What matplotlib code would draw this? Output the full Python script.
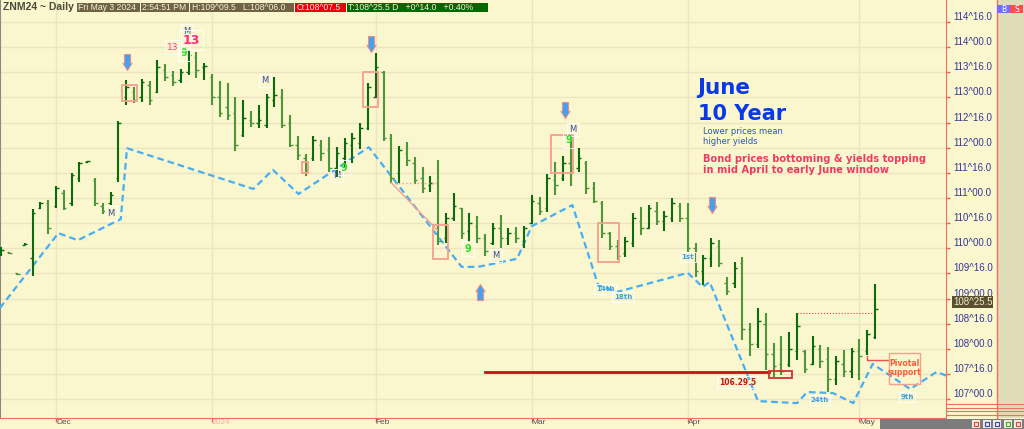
import numpy as np
import matplotlib
matplotlib.use('Agg')
import matplotlib.pyplot as plt
import matplotlib.path as mpath
from matplotlib.patches import Rectangle
from matplotlib.lines import Line2D

# ---- data (ZNM24 daily, Nov 21 2023 .. May 3 2024), bar index 0 = Nov 21
highs = [110.02, 109.93, 109.51, 110.10, 110.78, 110.92, 110.96, 111.24, 111.16, 111.50,
         111.72, 111.74, 111.40, 110.90, 111.12, 112.53, 113.35, 113.21, 113.37, 113.33,
         113.74, 113.67, 113.53, 113.57, 113.94, 113.90, 113.68, 113.47, 113.33, 113.29,
         113.01, 112.95, 112.73, 112.85, 113.07, 113.41, 113.17, 112.65, 112.23, 111.87,
         112.23, 112.15, 112.21, 112.01, 112.19, 112.29, 112.49, 113.29, 113.88, 113.53,
         112.27, 112.03, 112.11, 111.82, 111.62, 111.44, 111.76, 110.70, 111.10, 110.80,
         110.70, 110.64, 110.28, 110.50, 110.66, 110.40, 110.42, 110.44, 111.06, 111.02,
         111.48, 111.72, 111.84, 112.21, 111.99, 111.74, 111.32, 110.94, 110.32, 110.16,
         110.22, 110.70, 110.82, 110.86, 110.92, 110.74, 111.00, 110.90, 110.90, 110.10,
         109.87, 110.20, 110.16, 109.43, 109.73, 109.83, 108.51, 108.81, 108.71, 108.12,
         108.25, 108.33, 108.71, 107.98, 108.25, 108.08, 108.04, 107.86, 107.98, 108.02,
         108.20, 108.37, 109.297]
lows = [109.85, 109.89, 109.47, 110.06, 109.45, 110.78, 110.28, 110.80, 110.76, 110.84,
        111.32, 111.70, 110.84, 110.68, 110.86, 111.32, 112.85, 112.89, 112.91, 112.85,
        113.09, 113.33, 113.23, 113.29, 113.45, 113.39, 113.35, 112.85, 112.61, 112.55,
        111.93, 112.21, 112.41, 112.39, 112.39, 112.81, 112.39, 112.01, 111.76, 111.44,
        111.74, 111.74, 111.52, 111.42, 111.62, 111.70, 111.97, 112.35, 112.99, 112.13,
        111.30, 111.30, 111.64, 111.28, 111.10, 111.12, 110.06, 110.10, 110.54, 110.18,
        110.12, 110.10, 109.85, 110.06, 110.00, 110.06, 110.10, 110.00, 110.48, 110.66,
        110.72, 111.06, 111.34, 111.24, 111.52, 111.08, 110.90, 110.20, 109.97, 109.77,
        109.83, 110.02, 110.26, 110.38, 110.46, 110.34, 110.52, 110.52, 109.93, 109.43,
        109.27, 109.63, 109.63, 109.07, 109.21, 108.18, 107.86, 108.02, 107.58, 107.44,
        107.48, 107.64, 107.78, 107.52, 107.68, 107.62, 107.14, 107.28, 107.44, 107.42,
        107.38, 107.88, 108.1875]
opens = [109.90, 109.92, 109.50, 110.07, 109.80, 110.80, 110.90, 110.85, 111.10, 110.90,
         111.40, 111.72, 111.35, 110.85, 110.90, 111.40, 113.00, 113.10, 113.00, 113.25,
         113.10, 113.55, 113.45, 113.35, 113.50, 113.80, 113.60, 113.40, 113.00, 112.80,
         112.70, 112.25, 112.55, 112.50, 112.45, 112.95, 113.00, 112.50, 112.05, 111.80,
         111.80, 112.05, 111.95, 111.60, 111.80, 112.05, 112.10, 112.40, 113.00, 113.50,
         112.20, 111.50, 111.90, 111.70, 111.40, 111.25, 111.30, 110.20, 110.60, 110.80,
         110.35, 110.45, 110.20, 110.10, 110.40, 110.20, 110.30, 110.15, 110.50, 110.90,
         110.80, 111.35, 111.40, 111.70, 111.60, 111.70, 111.20, 110.90, 110.30, 110.05,
         109.90, 110.10, 110.55, 110.40, 110.75, 110.55, 110.60, 110.85, 110.60, 110.00,
         109.55, 109.80, 110.05, 109.30, 109.30, 109.70, 108.40, 108.10, 108.50, 107.90,
         107.70, 107.70, 107.95, 107.95, 107.70, 108.00, 107.80, 107.40, 107.70, 107.55,
         107.95, 107.95, 108.234]
closes = [109.97, 109.91, 109.49, 110.08, 110.70, 110.90, 110.40, 111.20, 110.80, 111.45,
          111.70, 111.73, 110.90, 110.75, 111.05, 112.50, 113.20, 112.95, 113.30, 112.95,
          113.60, 113.40, 113.30, 113.50, 113.85, 113.55, 113.62, 113.00, 112.70, 112.65,
          112.05, 112.60, 112.50, 112.55, 113.00, 113.05, 112.45, 112.05, 111.85, 111.55,
          112.15, 111.90, 111.60, 111.90, 112.10, 112.20, 112.40, 113.20, 113.60, 112.20,
          111.40, 111.95, 111.75, 111.35, 111.20, 111.30, 110.15, 110.60, 110.85, 110.30,
          110.50, 110.20, 109.95, 110.40, 110.20, 110.30, 110.20, 110.40, 110.95, 110.75,
          111.40, 111.25, 111.70, 111.60, 111.80, 111.20, 110.95, 110.30, 110.05, 109.85,
          110.15, 110.60, 110.40, 110.80, 110.55, 110.65, 110.90, 110.60, 110.00, 109.55,
          109.80, 110.10, 109.70, 109.15, 109.60, 108.40, 108.10, 108.55, 107.90, 107.65,
          107.55, 108.00, 108.45, 107.60, 108.05, 107.75, 107.40, 107.75, 107.55, 107.95,
          107.85, 108.30, 108.797]

month_pos = [7, 27, 48, 68, 88, 110]
month_labels = ['Dec', '2024', 'Feb', 'Mar', 'Apr', 'May']

# dashed projection line (bar index, price)
proj_x = [-0.2, 7.3, 9.8, 15.3, 16.1, 32.3, 34.8, 38.1, 47.1, 59.0, 61.1, 66.1, 68.0,
          73.2, 76.5, 78.9, 88.0, 89.9, 90.8, 97.0, 102.0, 103.3, 106.6, 109.2, 111.7,
          116.5, 119.9, 121.6]
proj_y = [108.81, 110.30, 110.16, 110.58, 111.99, 111.18, 111.56, 111.08, 112.01, 109.63,
          109.63, 109.79, 110.44, 110.86, 109.27, 109.13, 109.51, 109.23, 109.33, 106.96,
          106.92, 107.14, 107.12, 106.92, 107.70, 107.20, 107.54, 107.44]

price_ticks = [107.0, 107.5, 108.0, 108.5, 109.0, 109.5, 110.0, 110.5,
               111.0, 111.5, 112.0, 112.5, 113.0, 113.5, 114.0, 114.5]

BG = '#faf6cd'
GRID = '#ece5c2'
SALMON = '#f4a08e'


def fmt32(p):
    w = int(p)
    return '%d^%04.1f' % (w, (p - w) * 32)


fig = plt.figure(figsize=(10.24, 4.29), dpi=100)
fig.patch.set_facecolor(BG)
ax = fig.add_axes([0, 11 / 429, 946 / 1024, 418 / 429])
ax.set_facecolor(BG)
ax.set_xlim(-0.18, 121.1)
ax.set_ylim(106.624, 114.938)

# grid / axes
ax.set_yticks(price_ticks)
ax.set_yticklabels([fmt32(p) for p in price_ticks])
ax.yaxis.tick_right()
ax.tick_params(axis='y', colors='#f06050', length=3, width=1, pad=2,
               labelcolor='#36369a', labelsize=7)
for lab in ax.get_yticklabels():
    lab.set_fontfamily('Liberation Sans')
    lab.set_verticalalignment('bottom')
ax.set_xticks(month_pos)
ax.set_xticklabels(month_labels)
ax.tick_params(axis='x', colors='#f06050', length=3, width=1, pad=-2.5,
               labelcolor='#555555', labelsize=6)
for lab in ax.get_xticklabels():
    lab.set_horizontalalignment('left')
    lab.set_fontfamily('Liberation Sans')
ax.get_xticklabels()[1].set_color('#f4b0a8')
ax.grid(True, color=GRID, lw=1)
ax.set_axisbelow(True)
ax.spines['top'].set_visible(False)
ax.spines['left'].set_color('#8a8a80')
ax.spines['left'].set_linewidth(1.5)
ax.spines['right'].set_color('#f07060')
ax.spines['bottom'].set_color('#f07060')

# projection line
ax.plot(proj_x, proj_y, color='#45aef5', lw=1.6, ls=(0, (3, 1.8)), zorder=3)

# OHLC bars
xs = np.arange(len(highs))
for i in xs:
    c = '#0d6a0d' if closes[i] >= opens[i] else '#4f9638'
    ax.vlines(i, lows[i], highs[i], color=c, lw=1.5, zorder=4)
    ax.hlines(opens[i], i - 0.32, i, color=c, lw=1.0, zorder=4)
    ax.hlines(closes[i], i, i + 0.32, color=c, lw=1.0, zorder=4)

# support / pivot lines
ax.plot([62, 98.4], [107.53, 107.53], color='#cc1010', lw=2.0, zorder=5)
ax.plot([50.0, 55.9], [111.30, 111.30], color=SALMON, lw=1, ls=':', zorder=5)
ax.plot([50.0, 55.9], [111.30, 110.36], color=SALMON, lw=1, zorder=5)
ax.plot([102, 111.9], [108.71, 108.71], color='#e04040', lw=0.8, ls=':', zorder=5)
ax.plot([111, 111, 113.8], [107.86, 107.78, 107.78], color='#f05050', lw=1, zorder=5)

# highlight boxes
boxes = [(15.5, 112.93, 1.9, 0.32), (38.5, 111.50, 0.8, 0.22), (46.4, 112.81, 1.9, 0.70),
         (55.3, 109.79, 2.0, 0.67), (70.5, 111.50, 2.8, 0.75), (76.5, 109.73, 2.7, 0.77)]
for bx, by, bw, bh in boxes:
    ax.add_patch(Rectangle((bx, by), bw, bh, fill=False, ec=SALMON, lw=1.3, zorder=6))
ax.add_patch(Rectangle((98.4, 107.42), 3.0, 0.14, fill=False, ec='#d03030', lw=1.3, zorder=6))
ax.add_patch(Rectangle((113.8, 107.30), 4.0, 0.62, fill=False, ec=SALMON, lw=1.0, zorder=6))

# arrows
down = mpath.Path([(-0.37, 1), (0.37, 1), (0.37, -0.1), (0.56, -0.1), (0, -1),
                   (-0.56, -0.1), (-0.37, -0.1), (-0.37, 1)], closed=True)
up = mpath.Path([(x, -y) for x, y in down.vertices], closed=True)
ax.plot([16.1, 47.4, 72.3, 91.1], [113.70, 114.06, 112.75, 110.86], ls='none',
        marker=down, ms=11.5, mfc='#3fa3f0', mec='#f08a8a', mew=0.8, zorder=7)
ax.plot([61.4], [109.13], ls='none', marker=up, ms=11.5, mfc='#3fa3f0',
        mec='#f08a8a', mew=0.8, zorder=7)

lbox = dict(boxstyle='square,pad=0.25', fc='none', ec='white', lw=0.6)
for mx, my in [(23.8, 114.32), (14.05, 110.70), (33.8, 113.33), (43.0, 111.44),
               (63.4, 109.85), (73.3, 112.37)]:
    ax.text(mx, my, 'M', color='#3a4c9c', fontsize=6, ha='center', va='center',
            bbox=lbox, zorder=8)
for nx, ny in [(23.4, 113.88), (43.9, 111.60), (59.8, 109.99), (72.8, 112.15)]:
    ax.text(nx, ny, '9', color='#2ee02e', fontsize=7, fontweight='bold',
            ha='center', va='center', bbox=lbox, zorder=8)
ax.text(24.3, 114.14, '13', color='#ff2a88', fontsize=9, fontweight='bold',
        ha='center', va='center', bbox=lbox, zorder=8)
ax.text(22.0, 114.00, '13', color='#ff3a90', fontsize=6.5, ha='center',
        va='center', bbox=lbox, zorder=8)
for tx, ty, t in [(77.4, 109.19, '14th'), (79.7, 109.03, '18th'), (88.0, 109.83, '1st'),
                  (104.9, 106.98, '24th'), (116.1, 107.04, '9th')]:
    ax.text(tx, ty, t, color='#3aa0e8', fontsize=5, fontweight='bold',
            ha='center', va='center', bbox=lbox, zorder=8)
ax.text(94.4, 107.34, '106.29.5', color='#c01818', fontsize=5.5, fontweight='bold',
        ha='center', va='center', bbox=lbox, zorder=8)
ax.text(115.8, 107.62, 'Pivotal\nsupport', color='#ff5a3a', fontsize=5.5,
        fontweight='bold', ha='center', va='center', linespacing=1.1, zorder=8)

# commentary
ax.text(89.2, 113.19, 'June', color='#0a3ae8', fontsize=15.5, fontweight='bold',
        va='center', zorder=8)
ax.text(89.3, 112.67, '10 Year', color='#0a3ae8', fontsize=15, fontweight='bold',
        va='center', zorder=8)
ax.text(89.9, 112.22, 'Lower prices mean\nhigher yields', color='#2a50d8',
        fontsize=6, va='center', linespacing=1.05, zorder=8)
ax.text(89.9, 111.67, 'Bond prices bottoming & yields topping\nin mid April to early June window',
        color='#f03a64', fontsize=7.1, fontweight='bold', va='center',
        linespacing=1.1, zorder=8)

# current price tag
ax.annotate(fmt32(closes[-1]), xy=(1.0, closes[-1]), xycoords=('axes fraction', 'data'),
            xytext=(5, 1), textcoords='offset points', color='#f0ecd0', fontsize=7,
            family='Liberation Sans', va='bottom', annotation_clip=False,
            bbox=dict(boxstyle='square,pad=0.1', fc='#5a5030', ec='none'), zorder=9)


# ---- frame decorations (figure pixels)
def fr(x0, y0, x1, y1, **kw):
    fig.add_artist(Rectangle((x0 / 1024, 1 - y1 / 429), (x1 - x0) / 1024,
                             (y1 - y0) / 429, transform=fig.transFigure, **kw))


fr(997, 0, 1024, 418, fc='#e0dcb8', ec='none', zorder=1)
fig.add_artist(Line2D([997 / 1024, 997 / 1024], [1, 1 - 418 / 429],
                      transform=fig.transFigure, color='#f07060', lw=1))
for yy in [404, 407.5, 411, 415]:
    fig.add_artist(Line2D([947 / 1024, 1], [1 - yy / 429] * 2, transform=fig.transFigure,
                          color='#f07060', lw=0.8))
fr(997, 5, 1010, 13, fc='#7070f0', ec='none', zorder=2)
fr(1010, 5, 1023, 13, fc='#f05050', ec='none', zorder=2)
fig.text(1003.5 / 1024, 1 - 9 / 429, 'B', color='white', fontsize=5.5, ha='center', va='center')
fig.text(1016.5 / 1024, 1 - 9 / 429, 'S', color='white', fontsize=5.5, ha='center', va='center')
fr(880, 419, 1024, 429, fc='#7c7c7c', ec='none', zorder=2)
for k, col in enumerate(['#e04040', '#3040d0', '#3040d0', '#30b030', '#e04040']):
    fr(972 + k * 10.5, 420, 980 + k * 10.5, 428, fc='#f0ecd8', ec='none', zorder=3)
    fr(974 + k * 10.5, 422, 978 + k * 10.5, 426, fc='none', ec=col, lw=0.8, zorder=4)

# header
fig.text(3 / 1024, 1 - 7 / 429, 'ZNM24 ~ Daily', color='#4a4a3a', fontsize=7.5,
         fontweight='bold', va='center', family='Liberation Sans')
hdr = [(77, 140, 'Fri May 3 2024', '#6e6444'), (141, 189, '2:54:51 PM', '#6e6444'),
       (190, 294, 'H:109^09.5   L:108^06.0', '#6e6444'), (295, 346, 'O:108^07.5', '#e8000a'),
       (347, 488, 'T:108^25.5 D   +0^14.0   +0.40%', '#006a00')]
for x0, x1, t, col in hdr:
    fr(x0, 3, x1, 12, fc=col, ec='none', zorder=4)
    fig.text((x0 + 1.5) / 1024, 1 - 7.5 / 429, t, color='#f4f0dc', fontsize=6.2,
             va='center', family='Liberation Sans', zorder=5)

fig.savefig('out.png', dpi=100, facecolor=BG)
